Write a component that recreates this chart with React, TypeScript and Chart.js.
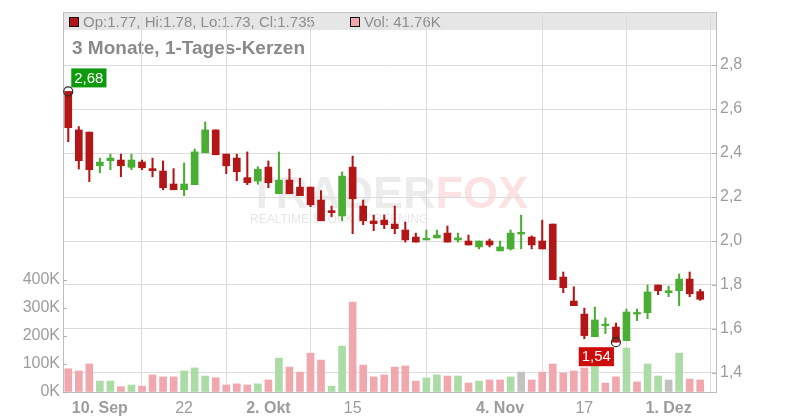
import React, { useEffect, useRef } from 'react';
import { Chart, registerables } from 'chart.js';

Chart.register(...registerables);

// ---- data ----
const openP = [
  2.68, 2.505, 2.495, 2.342, 2.365, 2.368, 2.335, 2.359, 2.329, 2.318,
  2.259, 2.233, 2.256, 2.401, 2.505, 2.395, 2.377, 2.288, 2.273, 2.336,
  2.215, 2.277, 2.245, 2.245, 2.186, 2.138, 2.114, 2.336, 2.159, 2.091,
  2.095, 2.077, 2.05, 2.018, 2.005, 2.014, 2.036, 2.005, 2.0, 1.973,
  2.0, 1.955, 1.964, 2.032, 2.018, 2.0, 2.077, 1.836, 1.727, 1.668,
  1.565, 1.615, 1.609, 1.547, 1.668, 1.674, 1.8, 1.765, 1.774, 1.827,
  1.77,
];
const highP = [
  2.68, 2.52, 2.495, 2.377, 2.395, 2.395, 2.395, 2.368, 2.377, 2.364,
  2.329, 2.355, 2.418, 2.541, 2.505, 2.395, 2.395, 2.405, 2.338, 2.364,
  2.405, 2.327, 2.286, 2.245, 2.229, 2.159, 2.314, 2.386, 2.186, 2.118,
  2.118, 2.159, 2.086, 2.036, 2.05, 2.05, 2.068, 2.036, 2.027, 2.0,
  2.009, 2.0, 2.05, 2.118, 2.023, 2.095, 2.077, 1.859, 1.792, 1.695,
  1.7, 1.651, 1.627, 1.691, 1.691, 1.8, 1.8, 1.795, 1.85, 1.859,
  1.78,
];
const lowP = [
  2.451, 2.327, 2.27, 2.31, 2.324, 2.292, 2.324, 2.324, 2.292, 2.233,
  2.233, 2.206, 2.256, 2.401, 2.392, 2.306, 2.274, 2.256, 2.258, 2.242,
  2.215, 2.215, 2.206, 2.156, 2.092, 2.11, 2.092, 2.033, 2.074, 2.047,
  2.056, 2.033, 1.995, 1.995, 2.005, 2.014, 1.995, 1.995, 1.982, 1.964,
  1.973, 1.955, 1.959, 1.964, 1.964, 1.964, 1.824, 1.765, 1.706, 1.556,
  1.565, 1.579, 1.54, 1.547, 1.638, 1.647, 1.756, 1.747, 1.706, 1.747,
  1.73,
];
const closeP = [
  2.515, 2.365, 2.324, 2.359, 2.377, 2.342, 2.368, 2.333, 2.32, 2.242,
  2.233, 2.259, 2.405, 2.505, 2.392, 2.342, 2.315, 2.265, 2.326, 2.265,
  2.277, 2.215, 2.206, 2.165, 2.092, 2.129, 2.295, 2.192, 2.092, 2.079,
  2.074, 2.056, 2.005, 1.995, 2.009, 2.027, 1.995, 2.014, 1.982, 2.0,
  1.982, 1.973, 2.036, 2.036, 1.982, 1.964, 1.824, 1.788, 1.706, 1.57,
  1.641, 1.617, 1.54, 1.677, 1.67, 1.768, 1.774, 1.774, 1.827, 1.76,
  1.735,
];
// volume in thousands
const volumeK = [
  83, 75, 100, 39, 39, 19, 25, 21, 61, 54,
  54, 75, 86, 57, 51, 25, 29, 25, 29, 43,
  121, 89, 71, 139, 114, 21, 164, 321, 96, 54,
  61, 89, 93, 39, 50, 61, 57, 57, 32, 39,
  43, 43, 54, 71, 43, 71, 100, 68, 75, 86,
  100, 32, 54, 157, 36, 100, 57, 43, 139, 46,
  43,
];

const tickIndex = [3, 11, 19, 27, 41, 49, 57];
const tickLabels = ['10. Sep', '22', '2. Okt', '15', '4. Nov', '17', '1. Dez'];
const tickBold = [true, false, true, false, true, false, true];
const priceTicks = [1.4, 1.6, 1.8, 2.0, 2.2, 2.4, 2.6, 2.8];
const volumeTicks = [0, 100000, 200000, 300000, 400000];

const headerOHLC = 'Op:1.77, Hi:1.78, Lo:1.73, Cl:1.735';
const headerVol = 'Vol: 41.76K';
const titleText = '3 Monate, 1-Tages-Kerzen';
const wmLeft = 'TRADER';
const wmRight = 'FOX';
const wmSub = 'REALTIME STOCK SCREENING';

// ---- styles ----
const RED = '#b31616';
const GREEN = '#4aae34';
const V_PINK = '#f0a7ae';
const V_GREEN = '#abdca6';
const V_GREY = '#c2c2c2';
const FONT = "'Liberation Sans', Arial, Helvetica, sans-serif";
const AXIS_TXT = '#9c9c9c';
const GRID = '#dcdcdc';
const BORDER = '#bdbdbd';

const fmt = (v: number, d: number) => v.toFixed(d).replace('.', ',');

const overlayPlugin = {
  id: 'overlay',
  beforeDraw(chart: any) {
    const { ctx, chartArea: a } = chart;
    ctx.save();
    // header band
    ctx.fillStyle = '#e6e6e6';
    ctx.fillRect(a.left, a.top, a.right - a.left, 18);
    ctx.strokeStyle = '#c6c6c6';
    ctx.lineWidth = 1;
    ctx.beginPath();
    ctx.moveTo(a.left, a.top + 0.5);
    ctx.lineTo(a.right, a.top + 0.5);
    ctx.stroke();

    // legend squares
    ctx.fillStyle = RED;
    ctx.fillRect(69.5, 17.5, 9, 9);
    ctx.strokeStyle = '#111';
    ctx.strokeRect(69.5, 17.5, 9, 9);
    ctx.fillStyle = V_PINK;
    ctx.fillRect(350.5, 17.5, 9, 9);
    ctx.strokeRect(350.5, 17.5, 9, 9);

    ctx.fillStyle = '#8e8e8e';
    ctx.textBaseline = 'alphabetic';
    ctx.textAlign = 'left';
    ctx.font = `15px ${FONT}`;
    ctx.fillText(headerOHLC, 83, 26.5);
    ctx.fillText(headerVol, 364, 26.5);

    ctx.fillStyle = '#8a8a8a';
    ctx.font = `bold 19px ${FONT}`;
    ctx.fillText(titleText, 72, 54);

    // watermark
    ctx.font = `bold 45px ${FONT}`;
    ctx.fillStyle = 'rgba(200,200,200,0.35)';
    ctx.fillText(wmLeft, 248, 208);
    const wl = ctx.measureText(wmLeft).width;
    ctx.fillStyle = 'rgba(245,150,150,0.28)';
    ctx.fillText(wmRight, 248 + wl, 208);
    ctx.font = `12px ${FONT}`;
    ctx.fillStyle = 'rgba(200,200,200,0.45)';
    ctx.fillText(wmSub, 250, 223);
    ctx.restore();
  },
  afterDraw(chart: any) {
    const { ctx, chartArea: a, scales } = chart;
    ctx.save();
    // small inner ticks on both value axes
    ctx.strokeStyle = '#b0b0b0';
    ctx.lineWidth = 1;
    ctx.beginPath();
    priceTicks.forEach((v) => {
      const y = Math.round(scales.y.getPixelForValue(v)) + 0.5;
      ctx.moveTo(a.right - 4, y);
      ctx.lineTo(a.right, y);
    });
    volumeTicks.forEach((v) => {
      const y = Math.round(scales.yv.getPixelForValue(v)) + 0.5;
      ctx.moveTo(a.left, y);
      ctx.lineTo(a.left + 4, y);
    });
    ctx.stroke();

    // high / low markers
    let hi = 0;
    let lo = 0;
    highP.forEach((v, i) => { if (v > highP[hi]) hi = i; });
    lowP.forEach((v, i) => { if (v < lowP[lo]) lo = i; });
    const hx = scales.x.getPixelForValue(hi);
    const hy = scales.y.getPixelForValue(highP[hi]);
    const lx = scales.x.getPixelForValue(lo);
    const ly = scales.y.getPixelForValue(lowP[lo]);

    ctx.strokeStyle = '#2a2a2a';
    ctx.lineWidth = 1.2;
    [[hx, hy], [lx, ly]].forEach(([cx, cy]) => {
      ctx.beginPath();
      ctx.arc(cx, cy, 4.5, 0, Math.PI * 2);
      ctx.stroke();
    });

    ctx.font = `15px ${FONT}`;
    ctx.textAlign = 'center';
    ctx.textBaseline = 'middle';
    // high label
    const hText = fmt(highP[hi], 2);
    const hw = ctx.measureText(hText).width + 6;
    ctx.fillStyle = '#0d9a0d';
    ctx.fillRect(hx + 3, hy - 23, hw, 19);
    ctx.fillStyle = '#ffffff';
    ctx.fillText(hText, hx + 3 + hw / 2, hy - 13);
    // low label
    const lText = fmt(lowP[lo], 2);
    const lw = ctx.measureText(lText).width + 6;
    ctx.fillStyle = '#cf0a0a';
    ctx.fillRect(lx - 2 - lw, ly + 5, lw, 19);
    ctx.fillStyle = '#ffffff';
    ctx.fillText(lText, lx - 2 - lw / 2, ly + 15);
    ctx.restore();
  },
};

const zeroPad = (s: any) => {
  s.paddingTop = 0;
  s.paddingBottom = 0;
  s.paddingLeft = 0;
  s.paddingRight = 0;
};

export default function App() {
  const ref = useRef<HTMLCanvasElement | null>(null);

  useEffect(() => {
    document.body.style.margin = '0';
    const canvas = ref.current;
    if (!canvas) return;

    const idx = closeP.map((_, i) => i);
    const bodies = idx.map((i) => ({ x: i, y: [openP[i], closeP[i]] }));
    const wicks = idx.map((i) => ({ x: i, y: [lowP[i], highP[i]] }));
    const vols = idx.map((i) => ({ x: i, y: volumeK[i] * 1000 }));
    const candleColors = idx.map((i) => (closeP[i] >= openP[i] ? GREEN : RED));
    const volColors = idx.map((i) => {
      const prev = i === 0 ? openP[0] : closeP[i - 1];
      if (closeP[i] > prev) return V_GREEN;
      if (closeP[i] < prev) return V_PINK;
      return V_GREY;
    });

    const chart = new Chart(canvas, {
      type: 'bar',
      data: {
        datasets: [
          {
            label: 'body',
            data: bodies as any,
            backgroundColor: candleColors,
            barThickness: 7,
            grouped: false,
            minBarLength: 1.6,
            borderWidth: 0,
            xAxisID: 'x',
            yAxisID: 'y',
            order: 1,
          } as any,
          {
            label: 'wick',
            data: wicks as any,
            backgroundColor: candleColors,
            barThickness: 1.4,
            grouped: false,
            borderWidth: 0,
            xAxisID: 'x',
            yAxisID: 'y',
            order: 2,
          } as any,
          {
            label: 'volume',
            data: vols as any,
            backgroundColor: volColors,
            barThickness: 7,
            grouped: false,
            borderWidth: 0,
            xAxisID: 'x',
            yAxisID: 'yv',
            order: 3,
          } as any,
        ],
      },
      options: {
        responsive: false,
        animation: false,
        events: [],
        layout: { padding: { top: 12, left: 0, right: 0, bottom: 0 } },
        plugins: {
          legend: { display: false },
          tooltip: { enabled: false },
          title: { display: false },
        },
        scales: {
          x: {
            type: 'linear',
            min: -0.5,
            max: 61.5,
            offset: false,
            afterBuildTicks: (s: any) => {
              s.ticks = tickIndex.map((v) => ({ value: v }));
            },
            afterFit: (s: any) => {
              s.height = 28;
              zeroPad(s);
            },
            ticks: {
              autoSkip: false,
              maxRotation: 0,
              padding: 7,
              color: AXIS_TXT,
              font: (c: any) => ({
                size: 16,
                family: FONT,
                weight: tickBold[c.index] ? 'bold' : 'normal',
              }),
              callback: (v: any) => {
                const k = tickIndex.indexOf(Number(v));
                return k >= 0 ? tickLabels[k] : '';
              },
            },
            grid: { color: GRID, drawTicks: false },
            border: { color: BORDER },
          } as any,
          y: {
            type: 'linear',
            position: 'right',
            min: 1.3136,
            max: 3.041,
            afterBuildTicks: (s: any) => {
              s.ticks = priceTicks.map((v) => ({ value: v }));
            },
            afterFit: (s: any) => {
              s.width = 84;
              zeroPad(s);
            },
            ticks: {
              padding: 4,
              color: AXIS_TXT,
              font: { size: 16, family: FONT },
              callback: (v: any) => fmt(Number(v), 1),
            },
            grid: { color: GRID, drawTicks: false },
            border: { color: BORDER },
          } as any,
          yv: {
            type: 'linear',
            position: 'left',
            min: 0,
            max: 1357000,
            afterBuildTicks: (s: any) => {
              s.ticks = volumeTicks.map((v) => ({ value: v }));
            },
            afterFit: (s: any) => {
              s.width = 63;
              zeroPad(s);
            },
            ticks: {
              padding: 3,
              color: AXIS_TXT,
              font: { size: 16, family: FONT },
              callback: (v: any) => `${Math.round(Number(v) / 1000)}K`,
            },
            grid: { drawOnChartArea: false, drawTicks: false },
            border: { color: BORDER },
          } as any,
        },
      },
      plugins: [overlayPlugin],
    });

    return () => {
      chart.destroy();
    };
  }, []);

  return (
    <div style={{ width: 800, height: 420, background: '#ffffff' }}>
      <canvas ref={ref} width={800} height={420} style={{ display: 'block' }} />
    </div>
  );
}
